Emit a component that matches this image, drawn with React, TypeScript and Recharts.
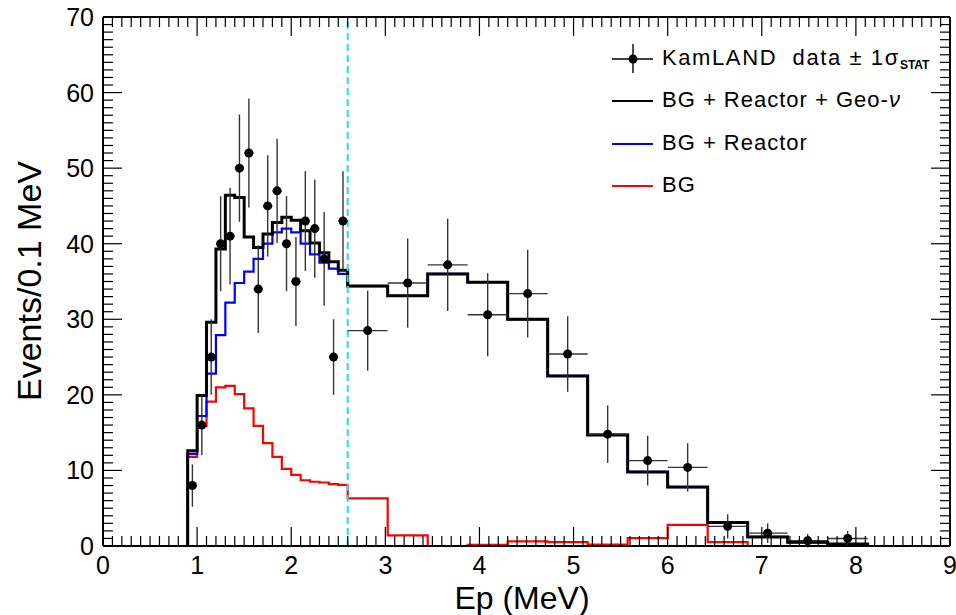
import { ComposedChart, Line, Scatter, ErrorBar, XAxis, YAxis, ReferenceLine } from 'recharts'

const FONT = '"Liberation Sans", Arial, Helvetica, sans-serif'

// Energy bins (MeV): 0.1 MeV wide up to the geo-nu cut, 0.425 MeV wide above it
const fineBins = [0.9, 1.0, 1.1, 1.2, 1.3, 1.4, 1.5, 1.6, 1.7, 1.8, 1.9, 2.0, 2.1, 2.2, 2.3, 2.4, 2.5]
const coarseBins = [2.6, 3.025, 3.45, 3.875, 4.3, 4.725, 5.15, 5.575, 6.0, 6.425, 6.85, 7.275, 7.7]
const binStart = 0.9
const binEnd = 8.125
const geoCut = 2.6

// BG + Reactor + Geo-nu (black)
const totalFine = [12.6, 19.9, 29.6, 39.3, 46.4, 46.1, 40.9, 39.5, 41.3, 42.8, 43.5, 43.1, 41.7, 40.1, 38.8, 37.6, 36.5]
const totalCoarse = [34.4, 33.1, 36.0, 34.9, 30.0, 22.5, 14.7, 9.8, 7.8, 3.1, 1.2, 0.5, 0.25]
// BG + Reactor (blue)
const reactorFine = [12.2, 17.2, 22.8, 27.9, 32.2, 34.8, 36.3, 38.0, 40.0, 41.5, 42.0, 41.5, 40.0, 38.6, 37.5, 36.7, 36.0]
const reactorCoarse = [34.4, 33.1, 36.0, 34.9, 30.0, 22.5, 14.7, 9.8, 7.8, 3.1, 1.2, 0.5, 0.25]
// BG only (red)
const bgFine = [11.8, 15.9, 19.1, 21.0, 21.2, 20.1, 18.2, 15.9, 13.6, 11.8, 10.2, 9.4, 8.7, 8.5, 8.4, 8.2, 8.1]
const bgCoarse = [6.3, 1.4, 0, 0.15, 0.6, 0.5, 0.2, 1.05, 2.8, 0.5, 0, 0, 0]

// KamLAND data points
const fineCenters = [0.95, 1.05, 1.15, 1.25, 1.35, 1.45, 1.55, 1.65, 1.75, 1.85, 1.95, 2.05, 2.15, 2.25, 2.35, 2.45, 2.55]
const fineCounts = [8, 16, 25, 40, 41, 50, 52, 34, 45, 47, 40, 35, 43, 42, 38, 25, 43]
const fineErr = [2.8, 4.0, 5.0, 6.3, 6.4, 7.1, 7.2, 5.8, 6.7, 6.9, 6.3, 5.9, 6.6, 6.5, 6.2, 5.0, 6.6]
const coarseCenters = [2.8125, 3.2375, 3.6625, 4.0875, 4.5125, 4.9375, 5.3625, 5.7875, 6.2125, 6.6375, 7.0625, 7.4875, 7.9125]
const coarseCounts = [28.5, 34.8, 37.2, 30.6, 33.4, 25.4, 14.8, 11.3, 10.4, 2.6, 1.7, 0.7, 1.0]
const coarseErr = [5.3, 5.9, 6.1, 5.5, 5.8, 5.0, 3.8, 3.3, 3.2, 1.6, 1.3, 0.9, 1.0]
const fineHalfWidth = 0.05
const coarseHalfWidth = 0.2125

const xLabels = [0, 1, 2, 3, 4, 5, 6, 7, 8, 9]
const yLabels = [0, 10, 20, 30, 40, 50, 60, 70]

// tick marks every 0.1 MeV and every 1 event
const xTicks = Array.from({ length: 91 }, (_, i) => i / 10)
const yTicks = Array.from({ length: 71 }, (_, i) => i)

const MAJOR = 19
const MINOR = 10

function stepData(fine: number[], coarse: number[]) {
  const bins = [...fineBins, ...coarseBins]
  const vals = [...fine, ...coarse]
  return [
    { x: binStart, y: 0 },
    ...bins.map((b, i) => ({ x: b, y: vals[i] })),
    { x: binEnd, y: 0 },
  ]
}

const totalData = stepData(totalFine, totalCoarse)
const reactorData = stepData(reactorFine, reactorCoarse)
const bgData = stepData(bgFine, bgCoarse)

const points = [
  ...fineCenters.map((x, i) => ({ x, y: fineCounts[i], ey: fineErr[i], ex: fineHalfWidth })),
  ...coarseCenters.map((x, i) => ({ x, y: coarseCounts[i], ey: coarseErr[i], ex: coarseHalfWidth })),
]

const isMajorX = (v: number) => xLabels.includes(Math.round(v * 10) / 10)
const isMajorY = (v: number) => yLabels.includes(Math.round(v))

function BottomTick({ x, y, payload }: any) {
  const major = isMajorX(payload.value)
  return (
    <g>
      <line x1={x} x2={x} y1={y} y2={y - (major ? MAJOR : MINOR)} stroke="#000" strokeWidth={1.2} />
      {major && (
        <text x={x} y={y + 28} textAnchor="middle" fontSize={25} fontFamily={FONT} fill="#000">
          {Math.round(payload.value)}
        </text>
      )}
    </g>
  )
}

function TopTick({ x, y, payload }: any) {
  const major = isMajorX(payload.value)
  return <line x1={x} x2={x} y1={y} y2={y + (major ? MAJOR : MINOR)} stroke="#000" strokeWidth={1.2} />
}

function LeftTick({ x, y, payload }: any) {
  const major = isMajorY(payload.value)
  return (
    <g>
      <line x1={x} x2={x + (major ? MAJOR : MINOR)} y1={y} y2={y} stroke="#000" strokeWidth={1.2} />
      {major && (
        <text x={x - 9} y={y + 9} textAnchor="end" fontSize={25} fontFamily={FONT} fill="#000">
          {payload.value}
        </text>
      )}
    </g>
  )
}

function RightTick({ x, y, payload }: any) {
  const major = isMajorY(payload.value)
  return <line x1={x} x2={x - (major ? MAJOR : MINOR)} y1={y} y2={y} stroke="#000" strokeWidth={1.2} />
}

const axisLine = { stroke: '#000', strokeWidth: 2 }

export default function App() {
  return (
    <div style={{ position: 'absolute', left: 0, top: 0, width: 956, height: 615, background: '#fff' }}>
      <ComposedChart width={956} height={615} margin={{ top: 0, right: 0, bottom: 0, left: 0 }}>
        <XAxis
          xAxisId="b" dataKey="x" type="number" domain={[0, 9]} allowDataOverflow
          ticks={xTicks} interval={0} tickSize={0} tickMargin={0} tickLine={false}
          tick={BottomTick} axisLine={axisLine} height={69}
        />
        <XAxis
          xAxisId="t" orientation="top" dataKey="x" type="number" domain={[0, 9]} allowDataOverflow
          ticks={xTicks} interval={0} tickSize={0} tickMargin={0} tickLine={false}
          tick={TopTick} axisLine={axisLine} height={17}
        />
        <YAxis
          yAxisId="l" type="number" domain={[0, 70]} allowDataOverflow
          ticks={yTicks} interval={0} tickSize={0} tickMargin={0} tickLine={false}
          tick={LeftTick} axisLine={axisLine} width={103}
        />
        <YAxis
          yAxisId="r" orientation="right" type="number" domain={[0, 70]} allowDataOverflow
          ticks={yTicks} interval={0} tickSize={0} tickMargin={0} tickLine={false}
          tick={RightTick} axisLine={axisLine} width={6}
        />
        <Line
          xAxisId="b" yAxisId="l" data={bgData} dataKey="y" type="stepAfter"
          stroke="#ff0000" strokeWidth={2.2} dot={false} activeDot={false} isAnimationActive={false}
        />
        <Line
          xAxisId="b" yAxisId="l" data={reactorData} dataKey="y" type="stepAfter"
          stroke="#0000ff" strokeWidth={2.2} dot={false} activeDot={false} isAnimationActive={false}
        />
        <Line
          xAxisId="b" yAxisId="l" data={totalData} dataKey="y" type="stepAfter"
          stroke="#000" strokeWidth={3} dot={false} activeDot={false} isAnimationActive={false}
        />
        <ReferenceLine xAxisId="b" yAxisId="l" x={geoCut} stroke="#20e0f5" strokeWidth={2} strokeDasharray="7 4" />
        <Scatter
          xAxisId="b" yAxisId="l" data={points} dataKey="y" isAnimationActive={false}
          shape={(p: any) => <circle cx={p.cx} cy={p.cy} r={4.5} fill="#000" />}
        >
          <ErrorBar dataKey="ey" direction="y" width={0} stroke="#333" strokeWidth={1.4} />
          <ErrorBar dataKey="ex" direction="x" width={0} stroke="#333" strokeWidth={1.4} />
        </Scatter>
      </ComposedChart>

      <svg width={956} height={615} style={{ position: 'absolute', left: 0, top: 0, pointerEvents: 'none' }}>
        <text
          transform="translate(41,281) rotate(-90)" textAnchor="middle"
          fontSize={34} fontFamily={FONT} fill="#000"
        >
          Events/0.1 MeV
        </text>
        <text x={522} y={609} textAnchor="middle" fontSize={32} fontFamily={FONT} fill="#000">
          Ep (MeV)
        </text>

        {/* legend */}
        <line x1={612} x2={653} y1={59} y2={59} stroke="#000" strokeWidth={1.4} />
        <line x1={633} x2={633} y1={44} y2={73} stroke="#000" strokeWidth={1.4} />
        <circle cx={633} cy={59} r={4.5} fill="#000" />
        <text x={662} y={65} fontSize={22} fontFamily={FONT} letterSpacing={1.6} style={{ whiteSpace: 'pre' }}>
          {'KamLAND  data ± 1σ'}
          <tspan fontSize={12} fontWeight="bold" dy={4} letterSpacing={0}>STAT</tspan>
        </text>

        <line x1={612} x2={653} y1={101} y2={101} stroke="#000" strokeWidth={2} />
        <text x={662} y={107} fontSize={22} fontFamily={FONT} letterSpacing={1}>
          BG + Reactor + Geo-<tspan fontStyle="italic">ν</tspan>
        </text>

        <line x1={612} x2={653} y1={144} y2={144} stroke="#0000ff" strokeWidth={2} />
        <text x={662} y={150} fontSize={22} fontFamily={FONT} letterSpacing={1}>
          BG + Reactor
        </text>

        <line x1={612} x2={653} y1={186} y2={186} stroke="#ff0000" strokeWidth={2} />
        <text x={662} y={192} fontSize={22} fontFamily={FONT} letterSpacing={1}>
          BG
        </text>
      </svg>
    </div>
  )
}
